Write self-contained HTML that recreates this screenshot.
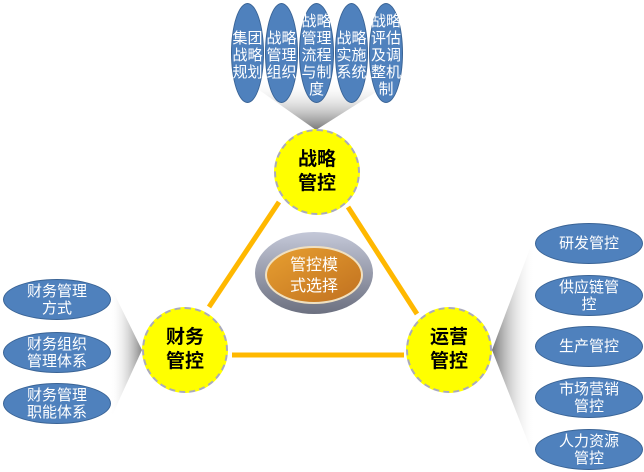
<!DOCTYPE html>
<html><head><meta charset="utf-8"><style>
body{margin:0;width:644px;height:472px;background:#fff;overflow:hidden;position:relative;font-family:"Liberation Sans","Noto Sans CJK SC",sans-serif}
.e{position:absolute;background:#4f81bd;border:1.5px solid #3a6496;border-radius:50%;color:#fff;display:flex;align-items:center;justify-content:center;text-align:center;box-sizing:border-box;font-size:15px;line-height:17px}
.v{font-size:15px;line-height:17px;padding-top:4px}
.c{position:absolute;width:86px;height:86px;border-radius:50%;background:#ffff00;border:2px dashed #aab;box-sizing:border-box;display:flex;align-items:center;justify-content:center;text-align:center;font-size:19px;line-height:24px;font-weight:bold;color:#000}
svg{position:absolute;left:0;top:0}
</style></head><body>
<svg width="644" height="472">
<defs>
<linearGradient id="gt" x1="0" y1="0" x2="0" y2="1"><stop offset="0" stop-color="#fff" stop-opacity="0"/><stop offset="1" stop-color="#777"/></linearGradient>
<linearGradient id="gl" x1="0" y1="0" x2="1" y2="0"><stop offset="0" stop-color="#fff" stop-opacity="0"/><stop offset="1" stop-color="#888"/></linearGradient>
<linearGradient id="gr" x1="1" y1="0" x2="0" y2="0"><stop offset="0" stop-color="#fff" stop-opacity="0"/><stop offset="1" stop-color="#777"/></linearGradient>
<linearGradient id="go" x1="0" y1="0" x2="0" y2="1"><stop offset="0" stop-color="#c4c8d8"/><stop offset="1" stop-color="#6c7080"/></linearGradient>
<linearGradient id="gi" x1="0" y1="0" x2="1" y2="1"><stop offset="0" stop-color="#e8a030"/><stop offset="1" stop-color="#c07020"/></linearGradient>
</defs>
<polygon points="245,80 395,80 316,130" fill="url(#gt)"/>
<polygon points="110,285 110,420 142,350" fill="url(#gl)"/>
<polygon points="535,235 535,460 492,350" fill="url(#gr)"/>
<g stroke="#ffb800" stroke-width="5">
<line x1="279" y1="202" x2="209" y2="307"/>
<line x1="348" y1="207" x2="417" y2="314"/>
<line x1="232" y1="355" x2="404" y2="355"/>
</g>
<ellipse cx="314" cy="273" rx="59" ry="41" fill="url(#go)"/>
<ellipse cx="314" cy="275" rx="48" ry="28" fill="url(#gi)" stroke="#f0e0c0" stroke-width="2"/>
<text x="314" y="270" fill="#fff" font-size="16" text-anchor="middle" font-family="Liberation Sans,Noto Sans CJK SC,sans-serif">管控模</text>
<text x="314" y="291" fill="#fff" font-size="16" text-anchor="middle" font-family="Liberation Sans,Noto Sans CJK SC,sans-serif">式选择</text>
</svg>
<div class="e v" style="left:231px;top:3px;width:33px;height:100px">集团<br>战略<br>规划</div>
<div class="e v" style="left:265px;top:3px;width:33px;height:100px">战略<br>管理<br>组织</div>
<div class="e v" style="left:299px;top:3px;width:35px;height:100px">战略<br>管理<br>流程<br>与制<br>度</div>
<div class="e v" style="left:335px;top:3px;width:33px;height:100px">战略<br>实施<br>系统</div>
<div class="e v" style="left:369px;top:3px;width:34px;height:100px">战略<br>评估<br>及调<br>整机<br>制</div>
<div class="c" style="left:274px;top:129px">战略<br>管控</div>
<div class="c" style="left:142px;top:307px">财务<br>管控</div>
<div class="c" style="left:406px;top:307px">运营<br>管控</div>
<div class="e" style="left:3px;top:279px;width:108px;height:41px">财务管理<br>方式</div>
<div class="e" style="left:3px;top:332px;width:108px;height:41px">财务组织<br>管理体系</div>
<div class="e" style="left:3px;top:383px;width:108px;height:41px">财务管理<br>职能体系</div>
<div class="e" style="left:535px;top:223px;width:108px;height:41px">研发管控</div>
<div class="e" style="left:535px;top:275px;width:108px;height:41px">供应链管<br>控</div>
<div class="e" style="left:535px;top:326px;width:108px;height:41px">生产管控</div>
<div class="e" style="left:535px;top:377px;width:108px;height:41px">市场营销<br>管控</div>
<div class="e" style="left:535px;top:429px;width:108px;height:41px">人力资源<br>管控</div>
</body></html>
